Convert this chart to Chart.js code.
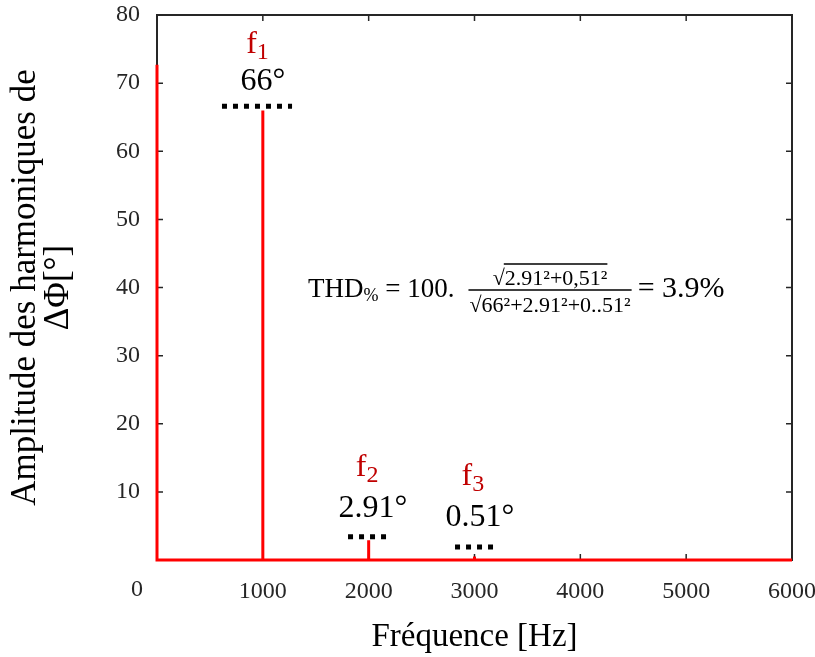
<!DOCTYPE html>
<html>
<head>
<meta charset="utf-8">
<script src="https://cdn.jsdelivr.net/npm/chart.js@4.4.0/dist/chart.umd.min.js"></script>
<style>
    html, body { margin: 0; padding: 0; background: #fff; }
    #wrap { width: 815px; height: 657px; position: relative; }
</style>
</head>
<body>
<div id="wrap"><canvas id="spectrum"></canvas></div>
<script>
// ========= DATA =========
// spectrum drawn as vertical spikes on a zero baseline
const freqHz    = [0, 0, 1000, 1000, 1000, 2000, 2000, 2000, 3000, 3000, 3000, 6000];
const amplitude = [72.7, 0, 0, 66, 0, 0, 2.91, 0, 0, 0.51, 0, 0];

const xTicks = [0, 1000, 2000, 3000, 4000, 5000, 6000];
const yTicks = [0, 10, 20, 30, 40, 50, 60, 70, 80];

// dotted level markers over each harmonic
const markerLevel = [66.6, 3.4, 1.9];
const markerFrom  = [614, 1805, 2816];
const markerTo    = [1276, 2183, 3175];

// harmonic annotations
const harmonicIndex = ['1', '2', '3'];
const harmonicValue = ['66°', '2.91°', '0.51°'];

const serif = '"Liberation Serif", "Times New Roman", serif';
const axisColor = '#262626';

// ========= DATASETS =========
const datasets = [{
    label: 'spectre',
    data: freqHz.map((f, i) => ({ x: f, y: amplitude[i] })),
    borderColor: '#ff0000',
    borderWidth: 3,
    pointRadius: 0,
    tension: 0,
    fill: false,
    clip: 6
}];
markerLevel.forEach((lvl, i) => {
    datasets.push({
        label: 'niveau f' + harmonicIndex[i],
        data: [{ x: markerFrom[i], y: lvl }, { x: markerTo[i], y: lvl }],
        borderColor: '#000',
        borderWidth: 5,
        borderDash: [5, 6],
        borderCapStyle: 'butt',
        pointRadius: 0,
        fill: false
    });
});

// ========= PLUGINS =========
// box + inward ticks (matlab style)
const boxPlugin = {
    id: 'box',
    beforeDatasetsDraw(chart) {
        const { ctx, chartArea: a, scales: { x, y } } = chart;
        ctx.save();
        ctx.strokeStyle = axisColor;
        ctx.lineWidth = 2;
        ctx.strokeRect(a.left, a.top, a.right - a.left, a.bottom - a.top);
        ctx.lineWidth = 1.5;
        ctx.beginPath();
        xTicks.forEach(v => {
            const px = x.getPixelForValue(v);
            ctx.moveTo(px, a.bottom); ctx.lineTo(px, a.bottom - 6);
            ctx.moveTo(px, a.top); ctx.lineTo(px, a.top + 6);
        });
        yTicks.forEach(v => {
            const py = y.getPixelForValue(v);
            ctx.moveTo(a.left, py); ctx.lineTo(a.left + 6, py);
            ctx.moveTo(a.right, py); ctx.lineTo(a.right - 6, py);
        });
        ctx.stroke();
        ctx.restore();
    }
};

function drawFormula(ctx, x, y) {
    ctx.fillStyle = '#000';
    ctx.strokeStyle = '#000';
    ctx.textAlign = 'left';
    ctx.textBaseline = 'alphabetic';

    ctx.font = `27px ${serif}`;
    ctx.fillText('THD', x, y);
    x += ctx.measureText('THD').width;
    ctx.font = `18px ${serif}`;
    ctx.fillText('%', x, y + 4);
    x += ctx.measureText('%').width;
    ctx.font = `27px ${serif}`;
    const mid = ' = 100.';
    ctx.fillText(mid, x, y);
    x += ctx.measureText(mid).width + 14;

    // fraction
    ctx.font = `22px ${serif}`;
    const num = '2.91²+0,51²';
    const den = '66²+2.91²+0..51²';
    const rw = ctx.measureText('√').width;
    const nw = rw + ctx.measureText(num).width;
    const dw = rw + ctx.measureText(den).width;
    const fw = Math.max(nw, dw) + 2;
    const nx = x + (fw - nw) / 2;
    ctx.fillText('√', nx, y - 12);
    ctx.fillText(num, nx + rw, y - 12);
    ctx.lineWidth = 1.3;
    ctx.beginPath();
    ctx.moveTo(nx + rw - 1, y - 33); ctx.lineTo(nx + nw, y - 33);
    ctx.moveTo(x, y - 7); ctx.lineTo(x + fw, y - 7);
    ctx.stroke();
    const dx = x + (fw - dw) / 2;
    ctx.fillText('√', dx, y + 15);
    ctx.fillText(den, dx + rw, y + 15);
    x += fw + 6;

    ctx.font = `30px ${serif}`;
    ctx.fillText('= 3.9%', x, y);
}

const labelPlugin = {
    id: 'labels',
    afterDatasetsDraw(chart) {
        const { ctx, chartArea: a, scales: { x, y } } = chart;
        // label positions in data units
        const namePos = [[950, 75.6], [1985, 13.6], [2985, 12.2]];
        const valuePos = [[1000, 70.2], [2040, 7.6], [3050, 6.2]];
        ctx.save();
        ctx.textBaseline = 'middle';
        harmonicIndex.forEach((idx, i) => {
            const px = x.getPixelForValue(namePos[i][0]);
            const py = y.getPixelForValue(namePos[i][1]);
            ctx.fillStyle = '#c00000';
            ctx.font = `32px ${serif}`;
            const fw = ctx.measureText('f').width;
            ctx.font = `24px ${serif}`;
            const sw = ctx.measureText(idx).width;
            const x0 = px - (fw + sw) / 2;
            ctx.textAlign = 'left';
            ctx.font = `32px ${serif}`;
            ctx.fillText('f', x0, py);
            ctx.font = `24px ${serif}`;
            ctx.fillText(idx, x0 + fw, py + 8);

            ctx.fillStyle = '#000';
            ctx.font = `32px ${serif}`;
            ctx.textAlign = 'center';
            ctx.fillText(harmonicValue[i], x.getPixelForValue(valuePos[i][0]), y.getPixelForValue(valuePos[i][1]));
        });

        // lone "0" at lower-left corner
        ctx.fillStyle = axisColor;
        ctx.font = `24px ${serif}`;
        ctx.textAlign = 'center';
        ctx.fillText('0', a.left - 20, a.bottom + 30);

        drawFormula(ctx, 308, 297);
        ctx.restore();
    }
};

// ========= CHART =========
new Chart(document.getElementById('spectrum'), {
    type: 'line',
    data: { datasets },
    options: {
        responsive: true,
        maintainAspectRatio: false,
        animation: false,
        layout: { padding: { top: 15, right: 23, bottom: 0, left: 0 } },
        plugins: { legend: { display: false }, tooltip: { enabled: false } },
        scales: {
            x: {
                type: 'linear',
                min: 0, max: 6000,
                afterBuildTicks: s => { s.ticks = xTicks.map(v => ({ value: v })); },
                afterFit: s => { s.height = 97; s.paddingLeft = 0; s.paddingRight = 0; },
                grid: { display: false },
                border: { display: false },
                ticks: {
                    padding: 9,
                    color: axisColor,
                    maxRotation: 0,
                    font: { family: serif, size: 24 },
                    callback: v => (v === 0 ? '' : v)
                },
                title: {
                    display: true,
                    text: 'Fréquence [Hz]',
                    color: '#000',
                    padding: { top: 0, bottom: 0 },
                    font: { family: serif, size: 33 }
                }
            },
            y: {
                min: 0, max: 80,
                afterBuildTicks: s => { s.ticks = yTicks.map(v => ({ value: v })); },
                afterFit: s => { s.width = 157; s.paddingTop = 0; s.paddingBottom = 0; },
                grid: { display: false },
                border: { display: false },
                ticks: {
                    padding: 9,
                    color: axisColor,
                    font: { family: serif, size: 24 },
                    callback: v => (v === 0 ? '' : v)
                },
                title: {
                    display: true,
                    text: ['Amplitude des harmoniques de', 'ΔΦ[°]'],
                    color: '#000',
                    padding: { top: 9, bottom: 0 },
                    font: { family: serif, size: 35, lineHeight: 0.95 }
                }
            }
        }
    },
    plugins: [boxPlugin, labelPlugin]
});
</script>
</body>
</html>
